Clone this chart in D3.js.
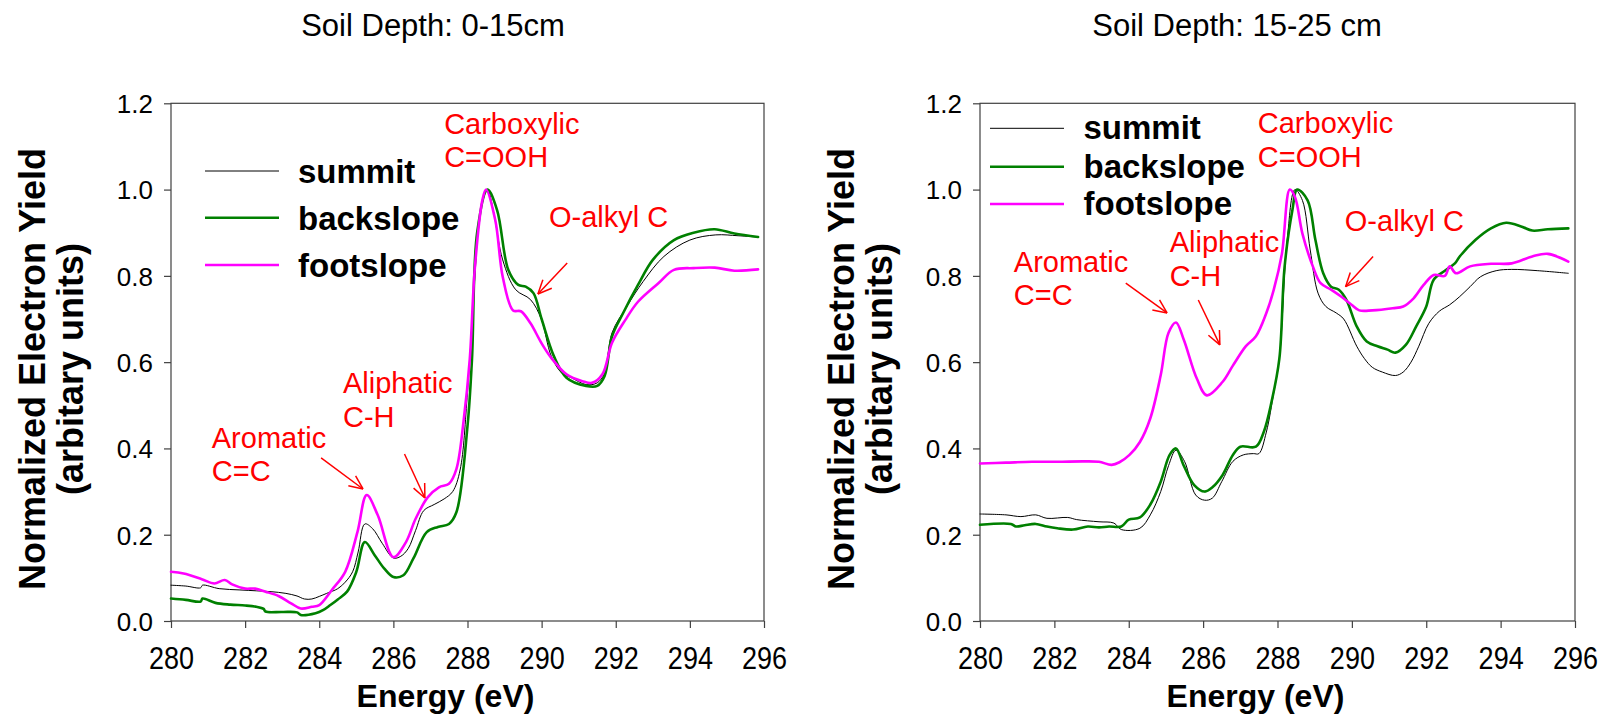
<!DOCTYPE html>
<html>
<head>
<meta charset="utf-8">
<script src="https://cdn.jsdelivr.net/npm/d3@7"></script>
<style>
  html, body { margin: 0; padding: 0; background: #fff; }
  svg { display: block; }
  text { font-family: "Liberation Sans", Arial, Helvetica, sans-serif; }
</style>
</head>
<body>
<svg id="chart" width="1608" height="721"></svg>
<script>
// ---- C K-edge NEXAFS spectra, three landscape positions, two depths ----
const xTicks = [280, 282, 284, 286, 288, 290, 292, 294, 296];
const yTicks = [0.0, 0.2, 0.4, 0.6, 0.8, 1.0, 1.2];
const seriesNames = ["summit", "backslope", "footslope"];
const seriesColors = ["#000000", "#008000", "#ff00ff"];
const seriesWidths = [1, 2.6, 2.6];

// 0-15 cm: [energy eV, normalized yield]
const summit0 = [
  [280.0,0.083],[280.4,0.081],[280.8,0.077],[280.85,0.083],[281.3,0.075],[281.86,0.072],
  [282.3,0.070],[282.7,0.068],[283.1,0.064],[283.4,0.058],[283.6,0.051],[283.8,0.051],
  [284.0,0.057],[284.2,0.064],[284.5,0.075],[284.7,0.090],[284.9,0.114],[285.05,0.160],
  [285.23,0.225],[285.44,0.214],[285.7,0.180],[286.0,0.146],[286.2,0.150],[286.4,0.168],
  [286.6,0.210],[286.82,0.256],[287.1,0.270],[287.37,0.283],[287.6,0.300],[287.8,0.350],
  [288.0,0.530],[288.2,0.800],[288.35,0.950],[288.54,1.000],[288.7,0.950],[288.95,0.837],
  [289.3,0.768],[289.7,0.745],[289.99,0.700],[290.26,0.614],[290.54,0.575],[290.8,0.564],
  [291.2,0.548],[291.5,0.552],[291.7,0.575],[291.9,0.668],[292.3,0.729],[292.74,0.787],
  [293.3,0.845],[294.0,0.883],[294.7,0.895],[295.3,0.893],[295.84,0.890]
];
const backslope0 = [
  [280.0,0.052],[280.4,0.049],[280.8,0.045],[280.85,0.052],[281.2,0.042],[281.6,0.038],
  [282.0,0.036],[282.3,0.033],[282.5,0.028],[282.55,0.022],[283.0,0.021],[283.4,0.020],
  [283.5,0.014],[283.9,0.018],[284.1,0.025],[284.3,0.037],[284.5,0.050],[284.75,0.068],
  [285.0,0.114],[285.23,0.183],[285.5,0.152],[285.75,0.122],[286.0,0.102],[286.27,0.106],
  [286.54,0.145],[286.9,0.206],[287.2,0.218],[287.5,0.225],[287.7,0.252],[288.0,0.452],
  [288.12,0.606],[288.26,0.900],[288.54,1.000],[288.8,0.952],[289.1,0.814],[289.37,0.779],
  [289.57,0.775],[289.78,0.760],[290.0,0.700],[290.33,0.614],[290.67,0.564],[291.2,0.545],
  [291.5,0.545],[291.7,0.568],[291.9,0.660],[292.2,0.714],[292.6,0.779],[293.0,0.837],
  [293.57,0.883],[294.1,0.900],[294.67,0.908],[295.2,0.898],[295.84,0.890]
];
const footslope0 = [
  [280.0,0.114],[280.34,0.110],[280.83,0.097],[281.17,0.087],[281.45,0.095],[281.65,0.085],
  [282.0,0.075],[282.27,0.075],[282.55,0.068],[282.9,0.058],[283.24,0.041],[283.5,0.029],
  [283.8,0.033],[284.0,0.037],[284.34,0.072],[284.7,0.114],[285.03,0.206],[285.28,0.292],
  [285.58,0.245],[286.0,0.148],[286.34,0.183],[286.6,0.237],[286.93,0.287],[287.23,0.310],
  [287.5,0.318],[287.7,0.352],[287.9,0.468],[288.06,0.606],[288.2,0.820],[288.4,0.975],
  [288.5,1.000],[288.75,0.929],[288.95,0.798],[289.23,0.720],[289.44,0.718],[289.7,0.690],
  [289.99,0.645],[290.26,0.610],[290.67,0.572],[291.1,0.556],[291.36,0.552],[291.64,0.572],
  [291.9,0.645],[292.26,0.698],[292.6,0.740],[293.15,0.783],[293.57,0.814],[294.1,0.818],
  [294.67,0.819],[295.2,0.812],[295.84,0.815]
];

// 15-25 cm
const summit15 = [
  [280.0,0.248],[280.7,0.246],[281.1,0.242],[281.5,0.246],[281.8,0.238],[282.36,0.240],
  [282.6,0.235],[283.2,0.230],[283.6,0.227],[283.8,0.212],[284.3,0.215],[284.58,0.246],
  [284.86,0.300],[285.07,0.360],[285.27,0.396],[285.5,0.370],[285.8,0.292],[286.04,0.280],
  [286.25,0.285],[286.5,0.323],[286.8,0.370],[287.08,0.385],[287.35,0.388],[287.5,0.388],
  [287.7,0.438],[287.9,0.530],[288.05,0.608],[288.26,0.883],[288.47,1.000],[288.67,0.975],
  [288.88,0.860],[289.09,0.760],[289.3,0.729],[289.58,0.714],[289.78,0.700],[290.13,0.637],
  [290.34,0.608],[290.55,0.588],[290.82,0.577],[291.17,0.569],[291.38,0.577],[291.59,0.600],
  [291.8,0.637],[292.07,0.690],[292.35,0.718],[292.63,0.733],[292.9,0.752],[293.18,0.775],
  [293.46,0.798],[293.88,0.812],[294.3,0.815],[295.0,0.812],[295.82,0.806]
];
const backslope15 = [
  [280.0,0.223],[280.83,0.225],[280.97,0.219],[281.2,0.222],[281.5,0.225],[281.8,0.219],
  [282.08,0.215],[282.5,0.212],[282.9,0.219],[283.2,0.217],[283.47,0.219],[283.8,0.219],
  [284.0,0.235],[284.3,0.240],[284.58,0.270],[284.86,0.323],[285.1,0.385],[285.27,0.400],
  [285.48,0.360],[285.76,0.315],[286.04,0.300],[286.25,0.310],[286.52,0.338],[286.8,0.385],
  [287.0,0.404],[287.42,0.404],[287.63,0.438],[287.84,0.508],[288.05,0.608],[288.19,0.820],
  [288.4,0.952],[288.53,1.000],[288.81,0.975],[289.02,0.883],[289.23,0.806],[289.44,0.775],
  [289.65,0.768],[289.85,0.745],[290.13,0.683],[290.4,0.648],[290.69,0.637],[290.96,0.629],
  [291.17,0.622],[291.45,0.640],[291.73,0.683],[292.0,0.729],[292.2,0.791],[292.5,0.812],
  [292.77,0.829],[292.9,0.845],[293.32,0.883],[293.74,0.910],[294.15,0.923],[294.57,0.914],
  [294.85,0.905],[295.27,0.908],[295.82,0.910]
];
const footslope15 = [
  [280.0,0.365],[280.7,0.367],[281.4,0.369],[282.08,0.369],[282.78,0.370],[283.2,0.369],
  [283.54,0.362],[283.75,0.368],[284.02,0.385],[284.3,0.415],[284.58,0.470],[284.86,0.570],
  [285.07,0.668],[285.27,0.692],[285.48,0.652],[285.83,0.562],[286.1,0.523],[286.52,0.554],
  [286.8,0.592],[287.15,0.637],[287.42,0.660],[287.7,0.714],[287.9,0.768],[288.12,0.852],
  [288.33,1.000],[288.47,0.983],[288.67,0.898],[288.95,0.822],[289.16,0.783],[289.44,0.768],
  [289.71,0.752],[289.99,0.733],[290.2,0.720],[290.55,0.720],[291.1,0.725],[291.38,0.729],
  [291.66,0.748],[291.93,0.779],[292.2,0.802],[292.5,0.800],[292.63,0.822],[292.8,0.806],
  [293.18,0.822],[293.74,0.828],[294.3,0.829],[294.85,0.845],[295.27,0.851],[295.82,0.833]
];

// Peak assignments: label lines anchored at [energy, value], arrows from -> to
const notes0 = [
  { lines: ["Carboxylic", "C=OOH"], at: [287.37, 1.129] },
  { lines: ["O-alkyl C"], at: [290.2, 0.914], arrow: [[290.69, 0.83], [289.9, 0.758]] },
  { lines: ["Aromatic", "C=C"], at: [281.1, 0.402], arrow: [[284.05, 0.378], [285.18, 0.306]] },
  { lines: ["Aliphatic", "C-H"], at: [284.64, 0.528], arrow: [[286.3, 0.387], [286.85, 0.285]] }
];
const notes15 = [
  { lines: ["Carboxylic", "C=OOH"], at: [287.47, 1.131] },
  { lines: ["O-alkyl C"], at: [289.81, 0.904], arrow: [[290.57, 0.845], [289.83, 0.775]] },
  { lines: ["Aromatic", "C=C"], at: [280.91, 0.81], arrow: [[283.92, 0.783], [285.03, 0.714]] },
  { lines: ["Aliphatic", "C-H"], at: [285.1, 0.855], arrow: [[285.87, 0.744], [286.45, 0.64]] }
];

const panels = [
  { title: "Soil Depth: 0-15cm", titleX: 433, left: 171, right: 764,
    data: [summit0, backslope0, footslope0], notes: notes0,
    legend: { x0: 34, x1: 108, tx: 127, ys: [67.7, 114.4, 161.7], dy: 12 } },
  { title: "Soil Depth: 15-25 cm", titleX: 1237, left: 980, right: 1575,
    data: [summit15, backslope15, footslope15], notes: notes15,
    legend: { x0: 10, x1: 84, tx: 103.5, ys: [25, 63.4, 100.7], dy: 11 } }
];

const plotTop = 103.3, plotBottom = 621;
const svg = d3.select("#chart");

panels.forEach(p => {
  const x = d3.scaleLinear().domain([280, 296]).range([p.left, p.right]);
  const y = d3.scaleLinear().domain([0, 1.2]).range([plotBottom, plotTop]);
  const g = svg.append("g");

  // title
  g.append("text").attr("x", p.titleX).attr("y", 35.5)
    .attr("text-anchor", "middle").attr("font-size", 31).attr("fill", "#000")
    .text(p.title);

  // frame
  g.append("rect").attr("x", p.left).attr("y", plotTop)
    .attr("width", p.right - p.left).attr("height", plotBottom - plotTop)
    .attr("fill", "none").attr("stroke", "#404040").attr("stroke-width", 1.2);

  // axes
  const xAxis = d3.axisBottom(x).tickValues(xTicks).tickSize(7).tickPadding(10)
    .tickFormat(d3.format("d"));
  const gx = g.append("g").attr("transform", `translate(0,${plotBottom})`).call(xAxis);
  const yAxis = d3.axisLeft(y).tickValues(yTicks).tickSize(7).tickPadding(11)
    .tickFormat(d3.format(".1f"));
  const gy = g.append("g").attr("transform", `translate(${p.left},0)`).call(yAxis);
  [gx, gy].forEach(ax => {
    ax.select(".domain").remove();
    ax.selectAll(".tick line").attr("stroke", "#404040").attr("stroke-width", 1.2);
    ax.selectAll(".tick text").attr("fill", "#000")
      .style("font-family", '"Liberation Sans", Arial, sans-serif');
  });
  // energy tick labels: slightly tall digits, baseline ~47px under the axis
  gx.selectAll(".tick text").attr("font-size", 27)
    .attr("y", 0).attr("dy", 0)
    .attr("transform", "translate(0,47.5) scale(1,1.15)");
  gy.selectAll(".tick text").attr("font-size", 26).attr("dy", "0.36em");

  // axis titles
  g.append("text").attr("x", (p.left + p.right) / 2 - 22).attr("y", 707)
    .attr("text-anchor", "middle").attr("font-size", 32).attr("font-weight", "bold")
    .text("Energy (eV)");
  const yl = g.append("g")
    .attr("transform", `translate(${p.left - 126},369) rotate(-90)`);
  yl.append("text").attr("x", 0).attr("y", 0).attr("text-anchor", "middle")
    .attr("font-size", 36).attr("font-weight", "bold").text("Normalized Electron Yield");
  yl.append("text").attr("x", 0).attr("y", 38).attr("text-anchor", "middle")
    .attr("font-size", 36).attr("font-weight", "bold").text("(arbitary units)");

  // spectra
  const line = d3.line().x(d => x(d[0])).y(d => y(d[1]))
    .curve(d3.curveCatmullRom.alpha(0.5));
  p.data.forEach((s, i) => {
    g.append("path").datum(s).attr("d", line).attr("fill", "none")
      .attr("stroke", seriesColors[i]).attr("stroke-width", seriesWidths[i])
      .attr("stroke-linejoin", "round").attr("stroke-linecap", "round");
  });

  // legend
  const L = p.legend;
  seriesNames.forEach((n, i) => {
    const ly = plotTop + L.ys[i];
    g.append("line").attr("x1", p.left + L.x0).attr("x2", p.left + L.x1)
      .attr("y1", ly).attr("y2", ly)
      .attr("stroke", seriesColors[i]).attr("stroke-width", seriesWidths[i]);
    g.append("text").attr("x", p.left + L.tx).attr("y", ly + L.dy)
      .attr("font-size", 33).attr("font-weight", "bold").attr("fill", "#000").text(n);
  });

  // annotations
  p.notes.forEach(nt => {
    nt.lines.forEach((t, k) => {
      g.append("text").attr("x", x(nt.at[0])).attr("y", y(nt.at[1]) + k * 33.5)
        .attr("font-size", 29).attr("fill", "#ff0000").text(t);
    });
    if (nt.arrow) {
      const [a, b] = nt.arrow;
      const x1 = x(a[0]), y1 = y(a[1]), x2 = x(b[0]), y2 = y(b[1]);
      g.append("line").attr("x1", x1).attr("y1", y1).attr("x2", x2).attr("y2", y2)
        .attr("stroke", "#ff0000").attr("stroke-width", 1.5);
      const ang = Math.atan2(y1 - y2, x1 - x2), len = 15, spread = 0.42;
      [-spread, spread].forEach(s => {
        g.append("line").attr("x1", x2).attr("y1", y2)
          .attr("x2", x2 + len * Math.cos(ang + s)).attr("y2", y2 + len * Math.sin(ang + s))
          .attr("stroke", "#ff0000").attr("stroke-width", 1.5);
      });
    }
  });
});
</script>
</body>
</html>
